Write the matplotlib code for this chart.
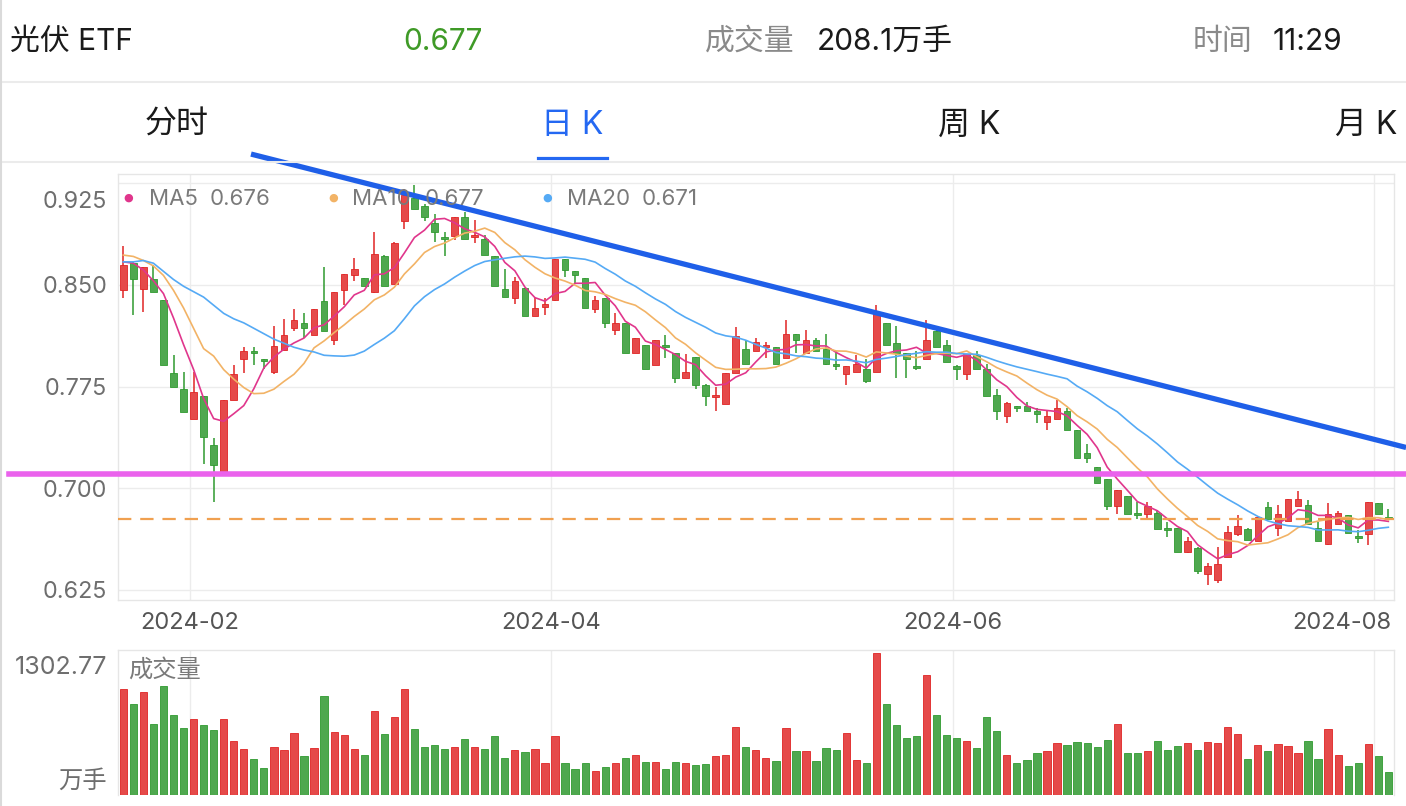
import numpy as np
import pandas as pd
import matplotlib
matplotlib.use('Agg')
import matplotlib.pyplot as plt
from matplotlib.lines import Line2D
from matplotlib.transforms import offset_copy

plt.rcParams['font.family'] = ['Inter', 'Noto Sans CJK SC', 'DejaVu Sans']

W, H = 1406, 806

# daily candles (光伏ETF)
opens = [0.846, 0.866, 0.847, 0.854, 0.839, 0.785, 0.773, 0.751, 0.768, 0.732,
         0.710, 0.765, 0.795, 0.801, 0.795, 0.786, 0.802, 0.818, 0.822, 0.813,
         0.838, 0.809, 0.846, 0.857, 0.855, 0.845, 0.871, 0.851, 0.897, 0.914,
         0.908, 0.896, 0.885, 0.886, 0.900, 0.885, 0.884, 0.871, 0.847, 0.840,
         0.848, 0.827, 0.834, 0.839, 0.869, 0.860, 0.855, 0.832, 0.840, 0.817,
         0.822, 0.800, 0.806, 0.791, 0.806, 0.800, 0.781, 0.797, 0.776, 0.767,
         0.762, 0.785, 0.803, 0.801, 0.804, 0.804, 0.796, 0.814, 0.800, 0.809,
         0.803, 0.792, 0.784, 0.786, 0.788, 0.786, 0.822, 0.807, 0.800, 0.790,
         0.795, 0.816, 0.806, 0.790, 0.784, 0.798, 0.788, 0.769, 0.753, 0.761,
         0.761, 0.757, 0.749, 0.751, 0.757, 0.743, 0.726, 0.716, 0.707, 0.687,
         0.694, 0.682, 0.681, 0.682, 0.671, 0.671, 0.653, 0.656, 0.637, 0.632,
         0.649, 0.666, 0.670, 0.661, 0.686, 0.671, 0.676, 0.687, 0.688, 0.671,
         0.659, 0.674, 0.680, 0.665, 0.666, 0.689, 0.679]
highs = [0.879, 0.867, 0.863, 0.865, 0.839, 0.798, 0.786, 0.786, 0.768, 0.737,
         0.765, 0.791, 0.804, 0.804, 0.795, 0.820, 0.825, 0.832, 0.829, 0.832,
         0.863, 0.845, 0.858, 0.870, 0.855, 0.889, 0.872, 0.882, 0.921, 0.924,
         0.910, 0.902, 0.889, 0.900, 0.904, 0.898, 0.887, 0.871, 0.862, 0.856,
         0.848, 0.840, 0.840, 0.869, 0.869, 0.860, 0.855, 0.842, 0.840, 0.829,
         0.822, 0.811, 0.806, 0.809, 0.813, 0.800, 0.799, 0.797, 0.777, 0.775,
         0.785, 0.819, 0.809, 0.811, 0.808, 0.804, 0.824, 0.814, 0.817, 0.811,
         0.814, 0.801, 0.790, 0.798, 0.795, 0.835, 0.822, 0.820, 0.800, 0.801,
         0.824, 0.817, 0.809, 0.791, 0.799, 0.801, 0.792, 0.773, 0.764, 0.761,
         0.764, 0.759, 0.757, 0.765, 0.759, 0.743, 0.733, 0.716, 0.707, 0.699,
         0.694, 0.690, 0.690, 0.684, 0.675, 0.671, 0.664, 0.657, 0.645, 0.657,
         0.672, 0.680, 0.671, 0.679, 0.690, 0.688, 0.692, 0.698, 0.691, 0.675,
         0.689, 0.683, 0.680, 0.669, 0.690, 0.689, 0.685]
lows = [0.840, 0.828, 0.830, 0.845, 0.791, 0.775, 0.756, 0.751, 0.718, 0.690,
        0.709, 0.765, 0.785, 0.791, 0.788, 0.784, 0.802, 0.816, 0.811, 0.813,
        0.816, 0.806, 0.835, 0.853, 0.849, 0.844, 0.849, 0.851, 0.891, 0.906,
        0.897, 0.882, 0.871, 0.883, 0.884, 0.881, 0.872, 0.849, 0.841, 0.836,
        0.827, 0.827, 0.828, 0.838, 0.856, 0.851, 0.833, 0.829, 0.818, 0.813,
        0.800, 0.800, 0.788, 0.791, 0.796, 0.778, 0.781, 0.773, 0.761, 0.757,
        0.762, 0.785, 0.792, 0.801, 0.796, 0.792, 0.796, 0.800, 0.800, 0.801,
        0.791, 0.787, 0.776, 0.786, 0.778, 0.786, 0.806, 0.781, 0.781, 0.787,
        0.795, 0.804, 0.793, 0.780, 0.780, 0.788, 0.768, 0.750, 0.748, 0.756,
        0.757, 0.748, 0.743, 0.751, 0.743, 0.722, 0.719, 0.704, 0.684, 0.681,
        0.681, 0.677, 0.677, 0.670, 0.664, 0.653, 0.652, 0.637, 0.629, 0.630,
        0.649, 0.665, 0.662, 0.661, 0.677, 0.665, 0.676, 0.687, 0.674, 0.661,
        0.658, 0.674, 0.667, 0.660, 0.658, 0.681, 0.677]
closes = [0.865, 0.854, 0.863, 0.845, 0.791, 0.775, 0.756, 0.771, 0.738, 0.717,
          0.765, 0.784, 0.801, 0.800, 0.794, 0.805, 0.813, 0.824, 0.818, 0.832,
          0.816, 0.845, 0.858, 0.862, 0.849, 0.873, 0.849, 0.881, 0.916, 0.906,
          0.900, 0.889, 0.884, 0.900, 0.884, 0.887, 0.872, 0.849, 0.841, 0.853,
          0.827, 0.833, 0.836, 0.869, 0.861, 0.857, 0.833, 0.839, 0.822, 0.822,
          0.800, 0.811, 0.788, 0.809, 0.804, 0.781, 0.786, 0.776, 0.768, 0.769,
          0.785, 0.812, 0.792, 0.808, 0.806, 0.792, 0.814, 0.809, 0.809, 0.801,
          0.792, 0.790, 0.790, 0.792, 0.779, 0.830, 0.806, 0.800, 0.795, 0.789,
          0.809, 0.804, 0.793, 0.788, 0.799, 0.788, 0.768, 0.757, 0.763, 0.759,
          0.757, 0.755, 0.753, 0.759, 0.743, 0.722, 0.722, 0.704, 0.687, 0.699,
          0.681, 0.680, 0.687, 0.670, 0.669, 0.653, 0.661, 0.639, 0.643, 0.644,
          0.668, 0.672, 0.662, 0.679, 0.677, 0.681, 0.692, 0.692, 0.674, 0.661,
          0.681, 0.682, 0.667, 0.663, 0.690, 0.681, 0.677]
volumes = [969, 835, 945, 645, 1000, 728, 614, 694, 636, 593,
           691, 495, 422, 330, 248, 443, 413, 566, 355, 431,
           902, 572, 547, 422, 367, 767, 556, 712, 969, 605,
           437, 459, 419, 440, 511, 437, 416, 541, 342, 413,
           394, 419, 290, 541, 290, 242, 290, 223, 260, 290,
           339, 364, 303, 303, 242, 303, 290, 278, 284, 352,
           364, 624, 437, 413, 339, 312, 608, 404, 404, 315,
           431, 413, 569, 321, 297, 1302.77, 832, 639, 523, 541,
           1097, 734, 547, 517, 498, 434, 709, 587, 367, 288,
           321, 388, 404, 477, 455, 486, 474, 443, 501, 648,
           385, 385, 398, 492, 413, 452, 474, 413, 489, 477,
           624, 556, 330, 458, 400, 462, 449, 385, 492, 333,
           605, 367, 269, 288, 465, 352, 208.1]

# moving averages before enough candles are on screen
ma5_head = [0.867, 0.866, 0.861, 0.853]
ma10_head = [0.872, 0.871, 0.868, 0.864, 0.857, 0.846, 0.833, 0.818, 0.803]
ma20_head = [0.867, 0.867, 0.868, 0.866, 0.860, 0.854, 0.849, 0.845, 0.841, 0.835,
             0.829, 0.825, 0.822, 0.818, 0.814, 0.810, 0.807, 0.804, 0.802]

ma_names = ['MA5', 'MA10', 'MA20']
ma_windows = [5, 10, 20]
ma_last = ['0.676', '0.677', '0.671']
ma_colors = ['#E0368C', '#F2B366', '#55AAF5']

date_labels = ['2024-02', '2024-04', '2024-06', '2024-08']
date_index = [7, 43, 83, 125]   # first trading day of the month
price_ticks = [0.925, 0.850, 0.775, 0.700, 0.625]
vol_max_label = '1302.77'

last_price = 0.677
support_level = 0.7102
trend_x = [12.72, 127.77]
trend_y = [0.9465, 0.7301]

header_name = '光伏 ETF'
header_price = '0.677'
header_vol = '208.1万手'
header_time = '11:29'
tabs = ['分时', '日 K', '周 K', '月 K']

RED, RED_E = '#E54A4A', '#E02424'
GREEN, GREEN_E = '#4FA84F', '#2F9A2F'
GRID = '#ECECEC'


def fx(x):
    return x / W


def fy(y):
    return 1 - y / H


fig = plt.figure(figsize=(W / 100, H / 100), dpi=100)
fig.patch.set_facecolor('white')

# ---- header ----
hy = fy(41.5)
fig.text(fx(10), hy, header_name, fontsize=21.5, color='#1A1A1A', va='center')
fig.text(fx(403), hy, header_price, fontsize=21.5, color='#3F9A27', va='center')
fig.text(fx(705), hy, '成交量', fontsize=21.5, color='#8A8A8A', va='center')
fig.text(fx(817), hy, header_vol, fontsize=21.5, color='#1A1A1A', va='center')
fig.text(fx(1193), hy, '时间', fontsize=21.5, color='#8A8A8A', va='center')
fig.text(fx(1273), hy, header_time, fontsize=21.5, color='#1A1A1A', va='center')

tab_x = [177, 572, 969, 1366]
for i, (t, x) in enumerate(zip(tabs, tab_x)):
    c = '#2468F2' if i == 1 else '#1A1A1A'
    fig.text(fx(x), fy(125.5), t, fontsize=23, color=c, ha='center', va='center')

fig.add_artist(Line2D([fx(538), fx(607)], [fy(158), fy(158)], color='#2468F2', lw=2.3))
for y in (82, 162):
    fig.add_artist(Line2D([0, 1], [fy(y), fy(y)], color='#EBEBEB', lw=1.5))
fig.add_artist(Line2D([fx(1), fx(1)], [0, 1], color='#DADADA', lw=1.5))

# ---- price panel ----
x0, dx = 123.3, 10.04
left_px, right_px = 118, 1393.5
aw = right_px - left_px
xl = ((left_px - x0) / dx, (right_px - x0) / dx)

ax = fig.add_axes([fx(left_px), fy(600), aw / W, 426 / H])
ax.set_xlim(*xl)
ax.set_ylim(0.6176, 0.9318)
ax.set_xticks([])
ax.set_yticks([])
for s in ax.spines.values():
    s.set_color('#E6E6E6')
    s.set_linewidth(1)

for p in price_ticks:
    ax.axhline(p, color=GRID, lw=1, zorder=0)
grid_x = [i - 0.4 for i in date_index]
for gx in grid_x:
    ax.axvline(gx, color=GRID, lw=1, zorder=0)

ytr = ax.get_yaxis_transform()
for p in price_ticks:
    tr = offset_copy(ytr, fig=fig, y=-2.5, units='dots')
    va = 'center'
    if p == price_ticks[0]:
        tr = offset_copy(ytr, fig=fig, y=-8, units='dots')
        va = 'top'
    ax.text(-11 / aw, p, f'{p:.3f}', transform=tr, ha='right', va=va,
            fontsize=16.8, color='#6E6E6E')

for lab, gx in zip(date_labels, grid_x):
    if gx > xl[1] - 3:
        ax.text(1 - 2 / aw, -23 / 426, lab, transform=ax.transAxes,
                ha='right', va='center', fontsize=17, color='#555555')
    else:
        ax.text(gx, -23 / 426, lab, transform=ax.get_xaxis_transform(),
                ha='center', va='center', fontsize=17, color='#555555')

# legend row
leg = [(128, 149, 210), (333, 352, 425), (547, 567, 642)]
for (dot_x, nx, vx), name, val, c in zip(leg, ma_names, ma_last, ma_colors):
    fig.text(fx(dot_x), fy(198), '●', fontsize=8, color=c, ha='center', va='center',
             family='DejaVu Sans', zorder=1)
    fig.text(fx(nx), fy(199), name, fontsize=16, color='#7A7A7A', va='center', zorder=1)
    fig.text(fx(vx), fy(199), val, fontsize=16, color='#7A7A7A', va='center', zorder=1)

idx = np.arange(len(closes))
o = np.array(opens)
h = np.array(highs)
l = np.array(lows)
c = np.array(closes)
up = c >= o
body_c = np.where(up, RED, GREEN)
edge_c = np.where(up, RED_E, GREEN_E)

ax.vlines(idx, l, h, colors=edge_c, lw=1.1, zorder=3)
bottom = np.minimum(o, c)
height = np.maximum(np.abs(c - o), 0.0009)
ax.bar(idx, height, bottom=bottom, width=0.66, color=body_c, edgecolor=edge_c,
       linewidth=0.6, zorder=4)

cs = pd.Series(closes)
heads = [ma5_head, ma10_head, ma20_head]
for n, head, col in zip(ma_windows, heads, ma_colors):
    ma = cs.rolling(n).mean().to_numpy()
    ma[:len(head)] = head
    ax.plot(idx, ma, color=col, lw=1.2, zorder=5)

ax.axhline(last_price, color='#F0A050', lw=1.6, ls=(0, (6, 4)), zorder=5)
ax.axhline(support_level, xmin=(9 - left_px) / aw, xmax=(W - left_px) / aw,
           color='#EA62EC', lw=4, clip_on=False, zorder=6)
ax.plot(trend_x, trend_y, color='#1F5FE8', lw=3.8, clip_on=False, zorder=7,
        solid_capstyle='butt')

# ---- volume panel ----
vax = fig.add_axes([fx(left_px), fy(795), aw / W, 145 / H])
vax.set_xlim(*xl)
vax.set_ylim(0, max(volumes) * 145 / 142.5)
vax.set_xticks([])
vax.set_yticks([])
for s in vax.spines.values():
    s.set_color('#E6E6E6')
    s.set_linewidth(1)
vax.spines['bottom'].set_visible(False)
for gx in grid_x:
    vax.axvline(gx, color=GRID, lw=1, zorder=0)

vax.bar(idx, volumes, width=0.72, color=body_c, edgecolor=edge_c, linewidth=0.6, zorder=3)
vax.text(-11 / aw, 1 - 18 / 145, vol_max_label, transform=vax.transAxes,
         ha='right', va='center', fontsize=18, color='#6E6E6E')
vax.text(-11 / aw, 1 - 131 / 145, '万手', transform=vax.transAxes,
         ha='right', va='center', fontsize=17.5, color='#6E6E6E')
vax.text(10 / aw, 1 - 20 / 145, '成交量', transform=vax.transAxes,
         ha='left', va='center', fontsize=17.5, color='#7A7A7A', zorder=1)

fig.savefig('out.png', dpi=100, facecolor='white')
